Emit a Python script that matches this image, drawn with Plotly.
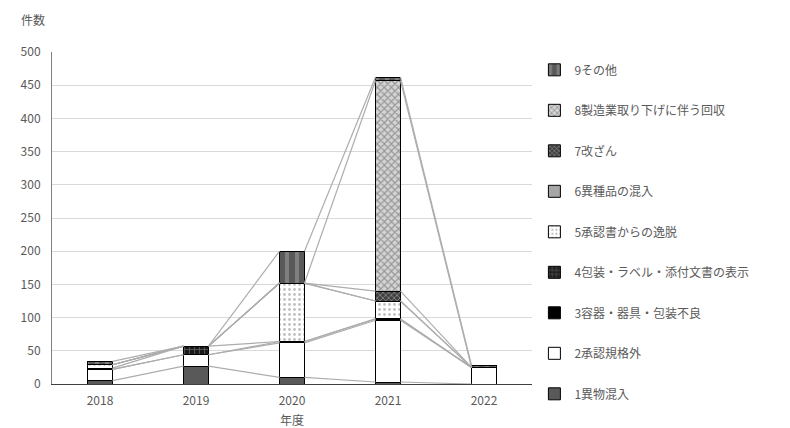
import numpy as np
import plotly.graph_objects as go

# 年度別の回収件数(理由別、積み上げ)
years = ["2018", "2019", "2020", "2021", "2022"]

reasons = [
    "1異物混入",
    "2承認規格外",
    "3容器・器具・包装不良",
    "4包装・ラベル・添付文書の表示",
    "5承認書からの逸脱",
    "6異種品の混入",
    "7改ざん",
    "8製造業取り下げに伴う回収",
    "9その他",
]

v1_foreign = [5, 27, 10, 3, 0]
v2_spec = [17, 17, 52, 93, 25]
v3_container = [0, 0, 2, 2, 0]
v4_label = [2, 13, 0, 0, 0]
v5_deviation = [5, 0, 88, 27, 0]
v6_mixup = [0, 0, 0, 0, 0]
v7_falsified = [0, 0, 0, 15, 0]
v8_withdrawal = [0, 0, 0, 317, 0]
v9_other = [5, 0, 48, 5, 3]

series_values = [
    v1_foreign, v2_spec, v3_container, v4_label, v5_deviation,
    v6_mixup, v7_falsified, v8_withdrawal, v9_other,
]

# 塗りとパターン(系列順)
styles = [
    dict(color="#595959", pattern=dict(shape="")),
    dict(color="#ffffff", pattern=dict(shape="")),
    dict(color="#000000", pattern=dict(shape="")),
    dict(color="#1a1a1a", pattern=dict(shape="+", fgcolor="#bfbfbf", bgcolor="#1a1a1a", size=5, solidity=0.25)),
    dict(color="#ffffff", pattern=dict(shape=".", fgcolor="#7f7f7f", bgcolor="#ffffff", size=5, solidity=0.25)),
    dict(color="#a6a6a6", pattern=dict(shape="")),
    dict(color="#404040", pattern=dict(shape="x", fgcolor="#d9d9d9", bgcolor="#404040", size=4, solidity=0.35)),
    dict(color="#ffffff", pattern=dict(shape="x", fgcolor="#555555", bgcolor="#d4d4d4", size=5, solidity=0.4)),
    dict(color="#595959", pattern=dict(shape="|", fgcolor="#a6a6a6", bgcolor="#595959", size=10, solidity=0.4)),
]

x = np.arange(len(years))
bar_width = 0.26
FONT = "Noto Sans CJK JP, Noto Sans, sans-serif"
TEXT = "#595959"

fig = go.Figure()

# 系列線: 各系列の累積値を隣り合う棒の端どうしで結ぶ
cum = np.cumsum(np.array(series_values, dtype=float), axis=0)
for k in range(len(reasons)):
    lx, ly = [], []
    for i in range(len(years) - 1):
        lx += [x[i] + bar_width / 2, x[i + 1] - bar_width / 2, None]
        ly += [cum[k][i], cum[k][i + 1], None]
    fig.add_trace(go.Scatter(
        x=lx, y=ly, mode="lines", showlegend=False, hoverinfo="skip",
        line=dict(color="#adadad", width=1.2),
    ))

n = len(reasons)
for k, name in enumerate(reasons):
    st = styles[k]
    fig.add_trace(go.Bar(
        x=x, y=series_values[k], name=name, width=bar_width,
        legendgroup=name, legendrank=100 + (n - k),
        marker=dict(color=st["color"], pattern=st["pattern"],
                    line=dict(color="#000000", width=1)),
    ))

fig.update_layout(
    barmode="stack",
    width=790, height=428,
    margin=dict(l=52, r=258, t=52, b=44),
    paper_bgcolor="#ffffff", plot_bgcolor="#ffffff",
    font=dict(family=FONT, size=12, color=TEXT),
    legend=dict(
        x=1.005, y=0.99, xanchor="left", yanchor="top",
        traceorder="grouped", tracegroupgap=21.5,
        font=dict(family=FONT, size=12, color=TEXT),
        itemwidth=30, bgcolor="rgba(0,0,0,0)", maxheight=428,
    ),
    xaxis=dict(
        tickmode="array", tickvals=x, ticktext=years, range=[-0.5, 4.5],
        showline=True, linecolor="#404040", linewidth=1, ticks="",
        showgrid=False, zeroline=False, ticklabelstandoff=6,
        tickfont=dict(size=12, color=TEXT),
    ),
    yaxis=dict(
        range=[0, 500], dtick=50, showgrid=True, gridcolor="#d9d9d9",
        gridwidth=1, showline=True, linecolor="#7f7f7f", linewidth=1,
        zeroline=False, ticks="", ticklabelstandoff=8,
        tickfont=dict(size=12, color=TEXT),
    ),
    annotations=[
        dict(text="件数", xref="paper", yref="paper", x=-0.068, y=1.065,
             xanchor="left", yanchor="bottom", showarrow=False,
             font=dict(size=12, color=TEXT)),
        dict(text="年度", xref="x", yref="paper", x=2, y=-0.074,
             xanchor="center", yanchor="top", showarrow=False,
             font=dict(size=12, color=TEXT)),
    ],
)

fig.write_html("out.html")
